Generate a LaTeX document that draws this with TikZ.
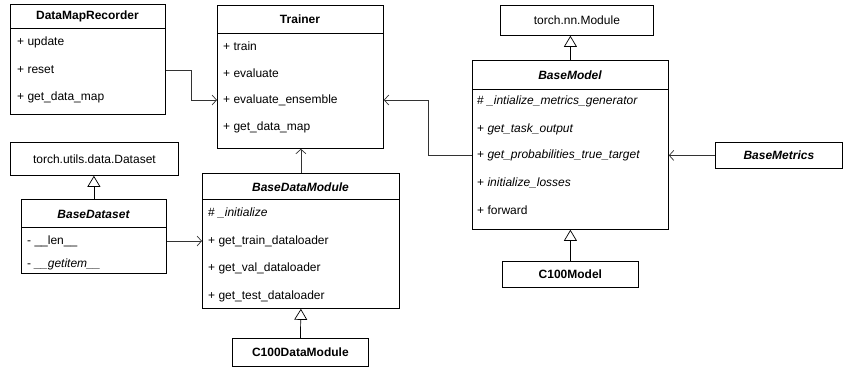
\documentclass[tikz,border=0pt]{standalone}
\usepackage{fontspec}
\setmainfont{Liberation Sans}
\usetikzlibrary{arrows.meta,calc}

\begin{document}
\begin{tikzpicture}[x=1pt, y=-1pt,
    box/.style={draw, line width=0.8pt, fill=white, inner sep=0pt, anchor=north west},
    title/.style={inner sep=0pt, font=\fontsize{12}{14}\selectfont\bfseries},
    item/.style={anchor=west, inner sep=0pt, font=\fontsize{12}{14}\selectfont},
    inherit/.style={-{Triangle[open, fill=white, length=11pt, width=13pt]}, line width=0.7pt},
    uses/.style={-{Straight Barb[length=4.5pt, width=10pt]}, line width=0.7pt, draw=black!80}]
    \useasboundingbox (0,0) rectangle (843,370);
    %%%%% CLASSES %%%%%
    \node[box, minimum width=155pt, minimum height=110pt] (dmr) at (10,4) {};
    \draw[line width=0.8pt] ([yshift=-24pt]dmr.north west) -- ([yshift=-24pt]dmr.north east);
    \node[title] (dmrT) at (87.5,16) {DataMapRecorder};
    \node[item] (dmrUpd) at (17,42) {+ update};
    \node[item] (dmrReset) at (17,70) {+ reset};
    \node[item] (dmrGet) at (17,97) {+ get\_data\_map};
    
    \node[box, minimum width=166pt, minimum height=143pt] (tr) at (217,5) {};
    \draw[line width=0.8pt] ([yshift=-28pt]tr.north west) -- ([yshift=-28pt]tr.north east);
    \node[title] (trT) at (300,19) {Trainer};
    \node[item] (trTrain) at (223,46) {+ train};
    \node[item] (trEval) at (223,73) {+ evaluate};
    \node[item] (trEns) at (223,100) {+ evaluate\_ensemble};
    \node[item] (trGet) at (223,127) {+ get\_data\_map};
    
    \node[box, minimum width=153pt, minimum height=30pt] (nn) at (500,5) {};
    \node[item, anchor=center] (nnT) at (nn.center) {torch.nn.Module};
    
    \node[box, minimum width=196pt, minimum height=169pt] (bm) at (472,60) {};
    \draw[line width=0.8pt] ([yshift=-29pt]bm.north west) -- ([yshift=-29pt]bm.north east);
    \node[title] (bmT) at (570,75) {\itshape BaseModel};
    \node[item] (bmInit) at (477,101) {\# \textit{\_intialize\_metrics\_generator}};
    \node[item] (bmTask) at (477,129) {+ \textit{get\_task\_output}};
    \node[item] (bmProb) at (477,155) {+ \textit{get\_probabilities\_true\_target}};
    \node[item] (bmLoss) at (477,183) {+ \textit{initialize\_losses}};
    \node[item] (bmFwd) at (477,210) {+ forward};
    
    \node[box, minimum width=136pt, minimum height=26pt] (c100m) at (502,261) {};
    \node[title] (c100mT) at (c100m.center) {C100Model};
    
    \node[box, minimum width=127pt, minimum height=26pt] (bmet) at (715,142) {};
    \node[title] (bmetT) at (bmet.center) {\itshape BaseMetrics};
    
    \node[box, minimum width=168pt, minimum height=33pt] (tds) at (10,142) {};
    \node[item, anchor=center] (tdsT) at (tds.center) {torch.utils.data.Dataset};
    
    \node[box, minimum width=145pt, minimum height=74pt] (bds) at (21,199) {};
    \draw[line width=0.8pt] ([yshift=-28pt]bds.north west) -- ([yshift=-28pt]bds.north east);
    \node[title] (bdsT) at (93.5,214) {\itshape BaseDataset};
    \node[item] (bdsLen) at (27,241) {- \_\_len\_\_};
    \node[item] (bdsGet) at (27,264) {- \textit{\_\_getitem\_\_}};
    
    \node[box, minimum width=197pt, minimum height=135pt] (bdm) at (202,173) {};
    \draw[line width=0.8pt] ([yshift=-26pt]bdm.north west) -- ([yshift=-26pt]bdm.north east);
    \node[title] (bdmT) at (300.5,187) {\itshape BaseDataModule};
    \node[item] (bdmInit) at (208,213) {\# \textit{\_initialize}};
    \node[item] (bdmTrain) at (208,241) {+ get\_train\_dataloader};
    \node[item] (bdmVal) at (208,268) {+ get\_val\_dataloader};
    \node[item] (bdmTest) at (208,296) {+ get\_test\_dataloader};
    
    \node[box, minimum width=136pt, minimum height=28pt] (c100dm) at (232,338) {};
    \node[title] (c100dmT) at (c100dm.center) {C100DataModule};
    
    %%%%% CONNECTORS %%%%%
    \draw[uses] (dmr.east |- dmrReset) -| ($(dmr.east |- trEns)!0.5!(tr.west |- trEns)$) -- (tr.west |- trEns);
    \draw[uses] (bm.west |- bmProb) -| ($(tr.east |- trEns)!0.5!(bm.west |- trEns)$) -- (tr.east |- trEns);
    \draw[uses] (bmet.west) -- (bm.east |- bmet.west);
    \draw[uses] (bds.east |- bdsLen) -- (bdm.west |- bdsLen);
    \draw[uses] (bdm.north) -- (bdm.north |- tr.south);
    \draw[inherit] (bm.north) -- (bm.north |- nn.south);
    \draw[inherit] (c100m.north) -- (bm.south);
    \draw[inherit] (bds.north) -- (bds.north |- tds.south);
    \draw[inherit] (c100dm.north) -- (bdm.south);
\end{tikzpicture}
\end{document}
